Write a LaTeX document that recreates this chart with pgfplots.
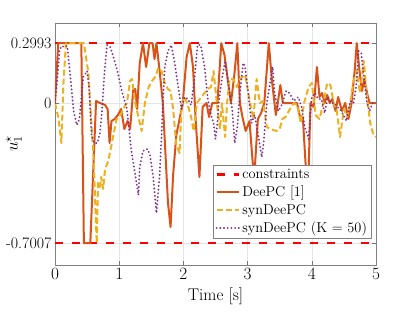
\documentclass[border=0pt]{standalone}
\usepackage{pgfplots}
\pgfplotsset{compat=1.18}
\definecolor{cOr}{rgb}{0.85,0.325,0.098}
\definecolor{cYe}{rgb}{0.929,0.694,0.125}
\definecolor{cPu}{rgb}{0.494,0.184,0.556}
\begin{document}
\begin{tikzpicture}
\path[use as bounding box] (0,0) rectangle (415bp,312bp);
\begin{axis}[at={(55bp,47bp)}, anchor=south west,
  width=321bp, height=242bp, scale only axis,
  xmin=0, xmax=5, ymin=-0.81, ymax=0.40,
  xtick={0,1,2,3,4,5},
  ytick={-0.7007,0,0.2993}, yticklabels={{-0.7007},{0},{0.2993}},
  tick align=inside, major tick length=4bp,
  tick style={black!55, line width=0.5bp},
  axis line style={black!50, line width=0.6bp},
  grid=major, grid style={black!10, line width=0.5bp},
  tick label style={font=\fontsize{16}{19}\selectfont},
  xlabel={Time [s]}, ylabel={$u_1^\star$},
  every axis x label/.style={at={(axis description cs:0.5,-0.131)}, anchor=center, font=\fontsize{17}{20}\selectfont},
  every axis y label/.style={at={(axis description cs:-0.128,0.5)}, rotate=90, anchor=center, font=\fontsize{17}{20}\selectfont},
  legend style={at={(0.985,0.11)}, anchor=south east, draw=black!50, fill=white,
    font=\fontsize{14.4}{17}\selectfont, cells={anchor=west}, inner sep=2bp, row sep=2bp},
  legend image code/.code={\draw[#1] plot coordinates {(0cm,0cm) (0.8cm,0cm)};},
  line join=round,
]
\addplot[red, line width=2.5bp, dash pattern=on 8bp off 9bp] coordinates {(0,0.2993) (5,0.2993)};
\addlegendentry{constraints}
\addplot[red, line width=2.5bp, dash pattern=on 8bp off 9bp, forget plot] coordinates {(0,-0.7007) (5,-0.7007)};

\addplot[cOr, line width=2bp] coordinates {
(0,0) (0.05,0.2993) (0.41,0.2993) (0.45,-0.7007) (0.55,-0.7007) (0.64,0.01) (0.7,0) (0.78,-0.01) (0.82,-0.03)
(0.85,-0.2) (0.88,-0.09) (0.93,-0.08) (0.98,-0.06) (1.03,-0.03) (1.08,-0.13) (1.13,-0.09) (1.17,-0.13)
(1.22,0.07) (1.25,0.07) (1.28,-0.03) (1.32,0.2) (1.37,0.2993) (1.42,0.18) (1.47,0.2993) (1.52,0.2993)
(1.55,0.22) (1.58,0.2993) (1.63,0.16) (1.68,0) (1.72,-0.25) (1.76,-0.5) (1.8,-0.62) (1.84,-0.36)
(1.89,-0.16) (1.94,-0.08) (1.99,0) (2.05,0.23) (2.1,0.2993) (2.15,0.18) (2.19,-0.08) (2.25,-0.37)
(2.3,-0.02) (2.36,0) (2.4,-0.07) (2.45,0) (2.53,0) (2.59,0.2993) (2.64,0.24) (2.69,0.12) (2.74,0)
(2.79,0.13) (2.84,0.2993) (2.88,0) (2.92,-0.07) (2.97,-0.14) (3.03,-0.09) (3.08,-0.3) (3.11,-0.34)
(3.16,-0.08) (3.21,-0.05) (3.26,0) (3.33,0.2993) (3.38,0.11) (3.44,-0.06) (3.47,0) (3.51,0.09)
(3.55,0) (3.65,0) (3.77,0) (3.83,-0.09) (3.86,-0.07) (3.91,-0.34) (3.95,-0.34) (3.98,0) (4.03,-0.02)
(4.08,0.18) (4.12,0.03) (4.16,0.05) (4.2,0) (4.24,0.04) (4.28,0) (4.32,0.02) (4.37,-0.04) (4.41,0.03)
(4.47,-0.04) (4.52,0) (4.57,-0.08) (4.62,0) (4.67,0.17) (4.7,0.2993) (4.74,0.17) (4.78,0.06)
(4.82,0.12) (4.86,0.05) (4.9,0) (5,0)};
\addlegendentry{DeePC [1]}

\addplot[cYe, line width=2bp, dash pattern=on 6bp off 3bp] coordinates {
(0,0) (0.05,-0.07) (0.1,-0.2) (0.13,0.09) (0.17,0.2993) (0.45,0.2993) (0.52,0.15) (0.57,-0.12)
(0.6,-0.27) (0.65,-0.7007) (0.67,-0.4) (0.7,-0.42) (0.72,-0.37) (0.75,-0.43) (0.78,-0.33) (0.83,-0.29)
(0.91,-0.16) (0.96,-0.08) (1.01,-0.07) (1.06,-0.03) (1.12,0) (1.17,0.11) (1.2,0.12) (1.25,0)
(1.3,-0.07) (1.35,-0.14) (1.4,0) (1.46,0.08) (1.51,0.11) (1.56,0.13) (1.61,0.175) (1.66,0.16)
(1.71,0.1) (1.76,0.07) (1.8,0.06) (1.84,-0.03) (1.89,-0.21) (1.94,-0.25) (1.97,-0.02) (2.01,0.03)
(2.06,0) (2.12,-0.07) (2.16,-0.14) (2.21,0) (2.28,0.03) (2.33,0.05) (2.38,0.07) (2.43,0.08)
(2.47,0.16) (2.52,0) (2.57,-0.13) (2.6,0) (2.65,-0.17) (2.68,0) (2.72,0.12) (2.78,0.12) (2.83,0.08)
(2.88,0.12) (2.96,0.14) (3.04,0) (3.09,-0.08) (3.14,0.12) (3.19,0) (3.24,0.01) (3.3,-0.12)
(3.35,-0.13) (3.45,-0.14) (3.5,-0.13) (3.54,-0.08) (3.59,-0.07) (3.66,-0.03) (3.72,0) (3.77,-0.01)
(3.83,-0.1) (3.88,0) (3.95,0.08) (4.0,0.1) (4.06,-0.06) (4.12,-0.08) (4.18,0) (4.24,0.1) (4.29,0.09)
(4.34,0) (4.39,-0.04) (4.44,-0.17) (4.5,-0.03) (4.55,-0.07) (4.6,0) (4.65,0.11) (4.7,0.16)
(4.75,0.05) (4.81,0.21) (4.86,0.03) (4.91,-0.1) (4.96,-0.16) (5,-0.17)};
\addlegendentry{synDeePC}

\addplot[cPu, line width=2bp, line cap=round, dash pattern=on 0.1bp off 3.6bp] coordinates {
(0,0) (0.03,0.1) (0.07,0.26) (0.1,0.285) (0.15,0.28) (0.19,0.285) (0.24,0.13) (0.29,-0.04)
(0.34,-0.11) (0.38,-0.08) (0.44,0.13) (0.5,0.16) (0.53,0.08) (0.57,-0.16) (0.61,-0.2) (0.66,-0.2)
(0.7,-0.15) (0.73,-0.05) (0.77,0.15) (0.81,0.29) (0.86,0.28) (0.91,0.23) (0.98,0.15) (1.04,0.06)
(1.12,-0.03) (1.19,-0.24) (1.25,-0.36) (1.3,-0.46) (1.32,-0.32) (1.37,-0.24) (1.44,-0.23)
(1.48,-0.26) (1.53,-0.37) (1.58,-0.55) (1.63,-0.36) (1.66,-0.16) (1.68,0) (1.71,0.18) (1.76,0.26)
(1.81,0.29) (1.86,0.21) (1.92,0.08) (1.97,-0.03) (2.02,0.03) (2.07,0.02) (2.12,-0.01) (2.17,0.11)
(2.22,0.29) (2.27,0.29) (2.33,0.18) (2.38,0.02) (2.43,-0.06) (2.47,-0.1) (2.5,-0.18) (2.53,-0.1)
(2.55,0) (2.6,0.12) (2.65,0.21) (2.68,0.14) (2.72,0.05) (2.76,-0.03) (2.8,-0.2) (2.84,-0.12)
(2.88,0.05) (2.93,0.2) (2.96,0.18) (3.01,0.05) (3.06,-0.1) (3.11,-0.06) (3.17,-0.17) (3.22,-0.27)
(3.25,-0.2) (3.3,0) (3.34,0.08) (3.39,0.18) (3.42,0.05) (3.48,-0.04) (3.53,-0.01) (3.6,0.06)
(3.65,0.05) (3.72,0.01) (3.79,0.03) (3.84,-0.02) (3.89,-0.12) (3.95,-0.18) (4.0,0.03) (4.05,0.05)
(4.1,0.02) (4.15,0.02) (4.2,-0.05) (4.25,0.03) (4.3,0) (4.35,0) (4.4,-0.02) (4.46,-0.04)
(4.54,-0.09) (4.6,0.01) (4.65,0) (4.69,0.08) (4.73,0.26) (4.77,0.25) (4.82,0.1) (4.86,0)
(4.9,-0.04) (4.95,0) (5,0)};
\addlegendentry{synDeePC (K = 50)}
\end{axis}
\end{tikzpicture}
\end{document}
